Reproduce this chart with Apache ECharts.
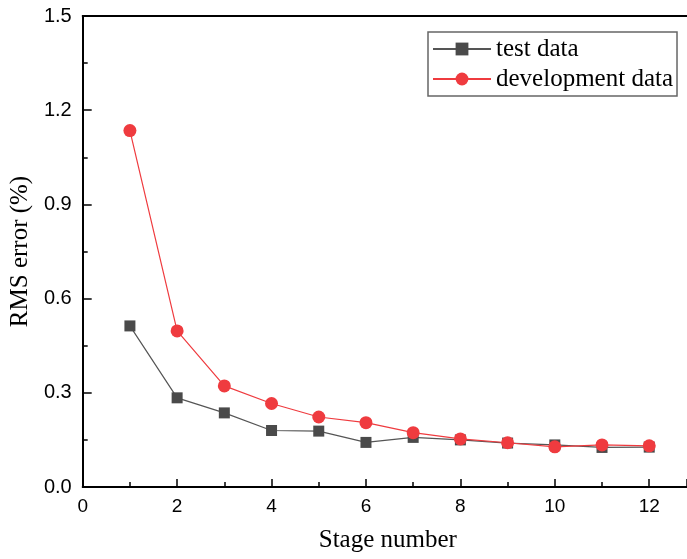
<!DOCTYPE html>
<html>
<head>
<meta charset="utf-8">
<script src="https://cdn.jsdelivr.net/npm/echarts@6/dist/echarts.min.js"></script>
<style>
  html, body { margin: 0; padding: 0; background: #fff; }
  #chart { width: 687px; height: 559px; }
</style>
</head>
<body>
<div id="chart"></div>
<script>
// Stage numbers and RMS error (%) per stage
const stages = [1, 2, 3, 4, 5, 6, 7, 8, 9, 10, 11, 12];
const testData = [0.513, 0.284, 0.236, 0.180, 0.178, 0.142, 0.158, 0.150, 0.140, 0.134, 0.126, 0.127];
const devData = [1.135, 0.497, 0.322, 0.266, 0.223, 0.205, 0.173, 0.153, 0.141, 0.128, 0.134, 0.131];

const seriesNames = ['test data', 'development data'];
const xAxisName = 'Stage number';
const yAxisName = 'RMS error (%)';

const pairs = (xs, ys) => xs.map((x, i) => [x, ys[i]]);

const serif = '"Liberation Serif", "Times New Roman", serif';
const sans = '"Liberation Sans", Arial, sans-serif';

const X_MAX = 12.8;

const chart = echarts.init(document.getElementById('chart'), null, { renderer: 'canvas' });

chart.setOption({
  animation: false,
  backgroundColor: '#fff',
  grid: { left: 80, top: 16, bottom: 72, right: 0 },
  legend: {
    orient: 'vertical',
    left: 428, top: 32,
    padding: [3, 4, 3, 4],
    itemGap: 2,
    itemWidth: 58,
    itemHeight: 16,
    borderColor: '#666',
    borderWidth: 1.5,
    backgroundColor: '#fff',
    textStyle: { fontFamily: serif, fontSize: 25, lineHeight: 28, color: '#000' },
    data: seriesNames
  },
  xAxis: [
    {
      type: 'value',
      min: 0, max: X_MAX, interval: 2,
      name: xAxisName,
      nameLocation: 'middle',
      nameGap: 41,
      nameTextStyle: { fontFamily: serif, fontSize: 25, color: '#000', padding: [0, 0, 0, 6] },
      axisLine: { show: true, onZero: false, lineStyle: { color: '#000', width: 2 } },
      axisTick: { show: true, inside: true, length: 8, lineStyle: { color: '#000', width: 1.5 } },
      minorTick: { show: true, splitNumber: 2, length: 5, lineStyle: { color: '#000', width: 1.5 } },
      axisLabel: { showMaxLabel: false, margin: 10, fontFamily: sans, fontSize: 19, color: '#000' },
      splitLine: { show: false }
    },
    {
      // top frame line
      type: 'value',
      position: 'top',
      min: 0, max: X_MAX,
      axisLine: { show: true, onZero: false, lineStyle: { color: '#000', width: 2 } },
      axisTick: { show: false },
      axisLabel: { show: false },
      splitLine: { show: false }
    }
  ],
  yAxis: {
    type: 'value',
    min: 0, max: 1.5, interval: 0.3,
    name: yAxisName,
    nameLocation: 'middle',
    nameGap: 45,
    nameTextStyle: { fontFamily: serif, fontSize: 25, color: '#000' },
    axisLine: { show: true, onZero: false, lineStyle: { color: '#000', width: 2 } },
    axisTick: { show: true, inside: true, length: 9, lineStyle: { color: '#000', width: 1.5 } },
    minorTick: { show: true, splitNumber: 2, length: 5, lineStyle: { color: '#000', width: 1.5 } },
    axisLabel: {
      margin: 11, fontFamily: sans, fontSize: 20, color: '#000',
      formatter: v => v.toFixed(1)
    },
    splitLine: { show: false }
  },
  series: [
    {
      name: seriesNames[0],
      type: 'line',
      data: pairs(stages, testData),
      symbol: 'rect',
      symbolSize: 11,
      itemStyle: { color: '#4a4a4a' },
      lineStyle: { color: '#555', width: 1.2 },
      z: 2
    },
    {
      name: seriesNames[1],
      type: 'line',
      data: pairs(stages, devData),
      symbol: 'circle',
      symbolSize: 13,
      itemStyle: { color: '#ef3b3f' },
      lineStyle: { color: '#ef3b3f', width: 1.2 },
      z: 3
    }
  ]
});
</script>
</body>
</html>
